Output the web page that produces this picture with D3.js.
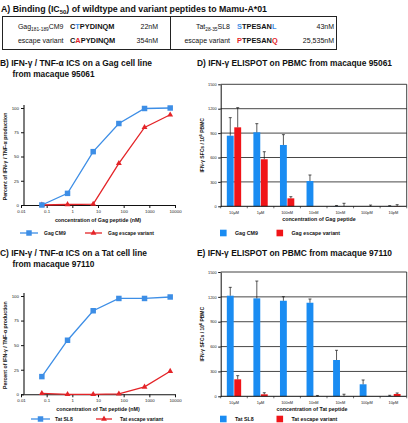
<!DOCTYPE html>
<html><head><meta charset="utf-8">
<script src="https://cdn.jsdelivr.net/npm/d3@7"></script>
<style>body{margin:0;background:#fff}svg{display:block}text{font-family:"Liberation Sans",Arial,Helvetica,sans-serif}</style>
</head><body><svg id="c" width="408" height="423"></svg>
<script>
// ---------- DATA ----------
const peptideLabels = [["Gag","181-189","CM9"],["escape variant"],["Tat","28-35","SL8"],["escape variant"]];
const peptideSeqs = ["CTPYDINQM","CAPYDINQM","STPESANL","PTPESANQ"];
const peptideHighlight = [[1],[1],[0,7],[0,7]];
const ic50Labels = ["22nM","354nM","43nM","25,535nM"];

const concentrations = [0.065, 0.65, 6.5, 65, 650, 6500];   // nM
const gagCM9Pct = [0, 12, 55, 84, 99.5, 100];
const gagEscapePct = [0, 0.5, 1, 43, 80, 93];
const tatSL8Pct = [18, 55, 85, 97.5, 97.5, 99];
const tatEscapePct = [1, 0, 0, 0.5, 7.5, 23.5];
const logTicks = [0.01, 0.1, 1, 10, 100, 1000, 10000];
const pctTicks = [0, 25, 50, 75, 100];

const elispotCats = ["10\u03bcM","1\u03bcM","100nM","10nM","10nM","100pM","10pM"];
const gagCM9Sfc = [868, 910, 754, 311, 3, 0, 2];
const gagCM9Upper = [1090, 1016, 881, 385, 10, 0, 8];
const gagEscSfc = [971, 578, 98, 0, 0, 0, 3];
const gagEscUpper = [1213, 671, 118, 0, 37, 15, 20];
const tatSL8Sfc = [1214, 1182, 1153, 1129, 438, 145, 3];
const tatSL8Upper = [1315, 1391, 1202, 1174, 555, 197, 12];
const tatEscSfc = [205, 24, 0, 0, 0, 0, 28];
const tatEscUpper = [249, 43, 0, 10, 25, 0, 40];
const sfcTicks = [0, 300, 600, 900, 1200, 1500];

// ---------- STYLE ----------
const BLUE_L = "#3d8ee6", RED_L = "#e42428";
const BLUE_B = "#1a8cf2", RED_B = "#f01418";
const svg = d3.select("#c");
svg.append("rect").attr("width",408).attr("height",423).attr("fill","#fff");

function text(g, x, y, s, size, weight, anchor, fill) {
  return g.append("text").attr("x",x).attr("y",y).text(s)
    .attr("font-size",size).attr("font-weight",weight||"normal")
    .attr("text-anchor",anchor||"start").attr("fill",fill||"#111");
}
function title(g, x, y, s, w) {
  return text(g, x, y, s, 9, "bold").attr("textLength", w).attr("lengthAdjust","spacingAndGlyphs");
}

// ---------- PANEL A ----------
{
  const t = svg.append("text").attr("x",1).attr("y",12).attr("font-size",9).attr("font-weight","bold").attr("fill","#111")
    .attr("textLength",266).attr("lengthAdjust","spacingAndGlyphs");
  t.append("tspan").text("A)  Binding (IC");
  t.append("tspan").attr("dy",2.2).attr("font-size",6).text("50");
  t.append("tspan").attr("dy",-2.2).text(") of wildtype and variant peptides to Mamu-A*01");

  svg.append("rect").attr("x",2.5).attr("y",16.5).attr("width",334).attr("height",33)
    .attr("fill","none").attr("stroke","#222").attr("stroke-width",1);
  svg.append("line").attr("x1",170.5).attr("x2",170.5).attr("y1",16.5).attr("y2",49.5)
    .attr("stroke","#222").attr("stroke-width",1);

  const labelX = [63.5, 63.5, 230, 230], seqX = [70, 70, 237, 237], valX = [158, 158, 334, 334];
  const rowY = [28.5, 43, 28.5, 43];
  peptideLabels.forEach((lab,i)=>{
    const t = svg.append("text").attr("x",labelX[i]).attr("y",rowY[i]).attr("text-anchor","end")
      .attr("font-size",7).attr("fill","#111");
    if (lab.length === 3) {
      t.append("tspan").text(lab[0]);
      t.append("tspan").attr("dy",2).attr("font-size",4.8).text(lab[1]);
      t.append("tspan").attr("dy",-2).text(lab[2]);
    } else t.text(lab[0]);
    const s = svg.append("text").attr("x",seqX[i]).attr("y",rowY[i])
      .attr("font-family","'Liberation Mono','Courier New',monospace").attr("font-weight","bold")
      .attr("font-size",7.4).attr("fill","#111");
    const hiColor = i % 2 === 0 ? BLUE_L : RED_L;
    peptideSeqs[i].split("").forEach((ch,k)=>{
      s.append("tspan").text(ch).attr("fill", peptideHighlight[i].includes(k) ? hiColor : "#111");
    });
    text(svg, valX[i], rowY[i], ic50Labels[i], 7, "normal", "end");
  });
}

// ---------- PANELS B & C ----------
function linePanel(cfg) {
  const g = svg.append("g");
  const x = d3.scaleLog().domain([0.01,10000]).range([21,175]);
  const y = d3.scaleLinear().domain([0,100]).range([cfg.y0, cfg.y100]);
  title(g, 0, cfg.titleY, cfg.title1, cfg.w1);
  title(g, 12.5, cfg.titleY + 11.5, cfg.title2, 82);

  const ya = g.append("g").attr("transform","translate(24,0)")
    .call(d3.axisLeft(y).tickValues(pctTicks).tickSize(3).tickSizeOuter(0).tickPadding(2));
  ya.select(".domain").attr("stroke","#111").attr("stroke-width",1.1).attr("d",`M0,${cfg.y0}V${cfg.y100-3}`);
  ya.selectAll(".tick line").attr("stroke","#111");
  ya.selectAll("text").attr("font-size",4.4).attr("font-family","'Liberation Sans',Arial,sans-serif").attr("fill","#222");

  const xa = g.append("g").attr("transform",`translate(0,${cfg.y0})`)
    .call(d3.axisBottom(x).tickValues(logTicks).tickFormat(d=>String(d)).tickSize(3).tickSizeOuter(0).tickPadding(2));
  xa.select(".domain").attr("stroke","#111").attr("stroke-width",1.1);
  xa.selectAll(".tick line").attr("stroke","#111");
  xa.selectAll("text").attr("font-size",4.4).attr("font-family","'Liberation Sans',Arial,sans-serif").attr("fill","#222");

  text(g, 98, cfg.y0 + 17, cfg.xTitle, 5.3, "bold", "middle");
  const yt = g.append("text").attr("transform",`translate(7,${(cfg.y0+cfg.y100)/2}) rotate(-90)`)
    .attr("text-anchor","middle").attr("font-size",5.2).attr("font-weight","bold").attr("fill","#111");
  yt.text("Percent of IFN-\u03b3 / TNF-\u03b1 production");

  const line = d3.line().x((d,i)=>x(concentrations[i])).y(d=>y(d));
  const sq = d3.symbol().type(d3.symbolSquare).size(30);
  const tri = d3.symbol().type(d3.symbolTriangle).size(15);
  [[cfg.s2, RED_L, tri],[cfg.s1, BLUE_L, sq]].forEach(([vals,col,sym])=>{
    g.append("path").attr("d",line(vals)).attr("fill","none").attr("stroke",col).attr("stroke-width",1.3);
    g.selectAll(null).data(vals).enter().append("path").attr("d",sym)
      .attr("transform",(d,i)=>`translate(${x(concentrations[i])},${y(d)})`).attr("fill",col);
  });

  // legend
  const L = cfg.legend;
  g.append("line").attr("x1",L.b[0]).attr("x2",L.b[1]).attr("y1",L.y).attr("y2",L.y).attr("stroke",BLUE_L).attr("stroke-width",1.3);
  g.append("path").attr("d",sq).attr("transform",`translate(${(L.b[0]+L.b[1])/2},${L.y})`).attr("fill",BLUE_L);
  text(g, L.bt, L.y+1.8, cfg.n1, 5, "bold");
  g.append("line").attr("x1",L.r[0]).attr("x2",L.r[1]).attr("y1",L.y).attr("y2",L.y).attr("stroke",RED_L).attr("stroke-width",1.3);
  g.append("path").attr("d",tri).attr("transform",`translate(${(L.r[0]+L.r[1])/2},${L.y})`).attr("fill",RED_L);
  text(g, L.rt, L.y+1.8, cfg.n2, 5, "bold");
}

linePanel({title1:"B) IFN-\u03b3 / TNF-\u03b1 ICS on a Gag cell line", w1:152, title2:"from macaque 95061", titleY:65.5,
  y0:205, y100:108, s1:gagCM9Pct, s2:gagEscapePct, xTitle:"concentration of Gag peptide (nM)",
  n1:"Gag CM9", n2:"Gag escape variant", legend:{y:233, b:[20,38], bt:44, r:[85,102], rt:108}});
linePanel({title1:"C) IFN-\u03b3 / TNF-\u03b1 ICS on a Tat cell line", w1:147, title2:"from macaque 97110", titleY:255.5,
  y0:394.3, y100:296, s1:tatSL8Pct, s2:tatEscapePct, xTitle:"concentration of Tat peptide (nM)",
  n1:"Tat SL8", n2:"Tat escape variant", legend:{y:419, b:[31,50], bt:55, r:[96,112], rt:120}});

// ---------- PANELS D & E ----------
function barPanel(cfg) {
  const g = svg.append("g");
  const L = 220.7, R = 406.7;
  const x = d3.scaleBand().domain(d3.range(elispotCats.length)).range([L,R]).padding(0);
  const x1 = d3.scaleBand().domain([0,1]).range([0,x.bandwidth()]).paddingInner(0.08).paddingOuter(0.82);
  const y = d3.scaleLinear().domain([0,1500]).range([cfg.y0, cfg.yTop]);
  title(g, 197, cfg.titleY, cfg.title, 195);

  // gridlines
  g.selectAll(null).data(sfcTicks.filter(v=>v>0 && v<1500)).enter().append("line")
    .attr("x1",L).attr("x2",R).attr("y1",d=>y(d)).attr("y2",d=>y(d)).attr("stroke","#333").attr("stroke-width",0.9);
  // border top & right
  g.append("path").attr("d",`M${L},${y(1500)}H${R}V${cfg.y0}`).attr("fill","none").attr("stroke","#111").attr("stroke-width",0.8);

  // bars
  const series = [[cfg.s1, cfg.u1, BLUE_B],[cfg.s2, cfg.u2, RED_B]];
  series.forEach(([vals,ups,col],k)=>{
    g.selectAll(null).data(vals).enter().append("rect")
      .attr("x",(d,i)=>x(i)+x1(k)).attr("width",x1.bandwidth())
      .attr("y",d=>y(d)).attr("height",d=>cfg.y0-y(d)).attr("fill",col);
  });
  series.forEach(([vals,ups,col],k)=>{
    ups.forEach((u,i)=>{
      if (u <= vals[i]) return;
      const cx = x(i)+x1(k)+x1.bandwidth()/2;
      g.append("line").attr("x1",cx).attr("x2",cx).attr("y1",y(vals[i])).attr("y2",y(u)).attr("stroke","#111").attr("stroke-width",0.7);
      g.append("line").attr("x1",cx-1.5).attr("x2",cx+1.5).attr("y1",y(u)).attr("y2",y(u)).attr("stroke","#111").attr("stroke-width",0.7);
    });
  });

  // axes
  const ya = g.append("g").attr("transform",`translate(${L},0)`)
    .call(d3.axisLeft(y).tickValues(sfcTicks).tickFormat(d3.format("d")).tickSize(2.5).tickSizeOuter(0).tickPadding(1.5));
  ya.select(".domain").attr("stroke","#111").attr("stroke-width",1);
  ya.selectAll(".tick line").attr("stroke","#111");
  ya.selectAll("text").attr("font-size",3.9).attr("font-family","'Liberation Sans',Arial,sans-serif").attr("fill","#222");

  const xa = g.append("g").attr("transform",`translate(0,${cfg.y0})`);
  xa.append("line").attr("x1",L).attr("x2",R).attr("stroke","#111").attr("stroke-width",1);
  xa.selectAll(null).data(d3.range(elispotCats.length+1)).enter().append("line")
    .attr("x1",i=>L+i*x.step()).attr("x2",i=>L+i*x.step()).attr("y1",0).attr("y2",2).attr("stroke","#111").attr("stroke-width",0.6);
  xa.selectAll(null).data(elispotCats).enter().append("text")
    .attr("x",(d,i)=>x(i)+x.bandwidth()/2).attr("y",7.5).attr("text-anchor","middle")
    .attr("font-size",3.9).attr("fill","#222").text(d=>d);

  text(g, cfg.xTitleX, cfg.y0 + 14.5, cfg.xTitle, 5.3, "bold", "middle");
  const yt = g.append("text").attr("transform",`translate(204,${(cfg.y0+cfg.yTop)/2}) rotate(-90)`)
    .attr("text-anchor","middle").attr("font-size",5).attr("font-weight","bold").attr("fill","#111");
  yt.append("tspan").text("IFN-\u03b3 SFCs / 10");
  yt.append("tspan").attr("dy",-1.8).attr("font-size",3.6).text("6");
  yt.append("tspan").attr("dy",1.8).text(" PBMC");

  // legend
  const ly = cfg.legendY;
  g.append("rect").attr("x",220).attr("y",ly-3.3).attr("width",6.6).attr("height",6.6).attr("fill",BLUE_B);
  text(g, 235, ly+1.9, cfg.n1, 5.3, "bold");
  g.append("rect").attr("x",276.5).attr("y",ly-3.3).attr("width",6.6).attr("height",6.6).attr("fill",RED_B);
  text(g, 291.5, ly+1.9, cfg.n2, 5.3, "bold");
}

barPanel({title:"D) IFN-\u03b3 ELISPOT on PBMC from macaque 95061", titleY:65.5, y0:206.3, yTop:84.3,
  s1:gagCM9Sfc, u1:gagCM9Upper, s2:gagEscSfc, u2:gagEscUpper,
  xTitle:"concentration of Gag peptide", xTitleX:319, n1:"Gag CM9", n2:"Gag escape variant", legendY:233});
barPanel({title:"E) IFN-\u03b3 ELISPOT on PBMC from macaque 97110", titleY:255.5, y0:396.3, yTop:272,
  s1:tatSL8Sfc, u1:tatSL8Upper, s2:tatEscSfc, u2:tatEscUpper,
  xTitle:"concentration of Tat peptide", xTitleX:312, n1:"Tat SL8", n2:"Tat escape variant", legendY:419});
</script></body></html>
